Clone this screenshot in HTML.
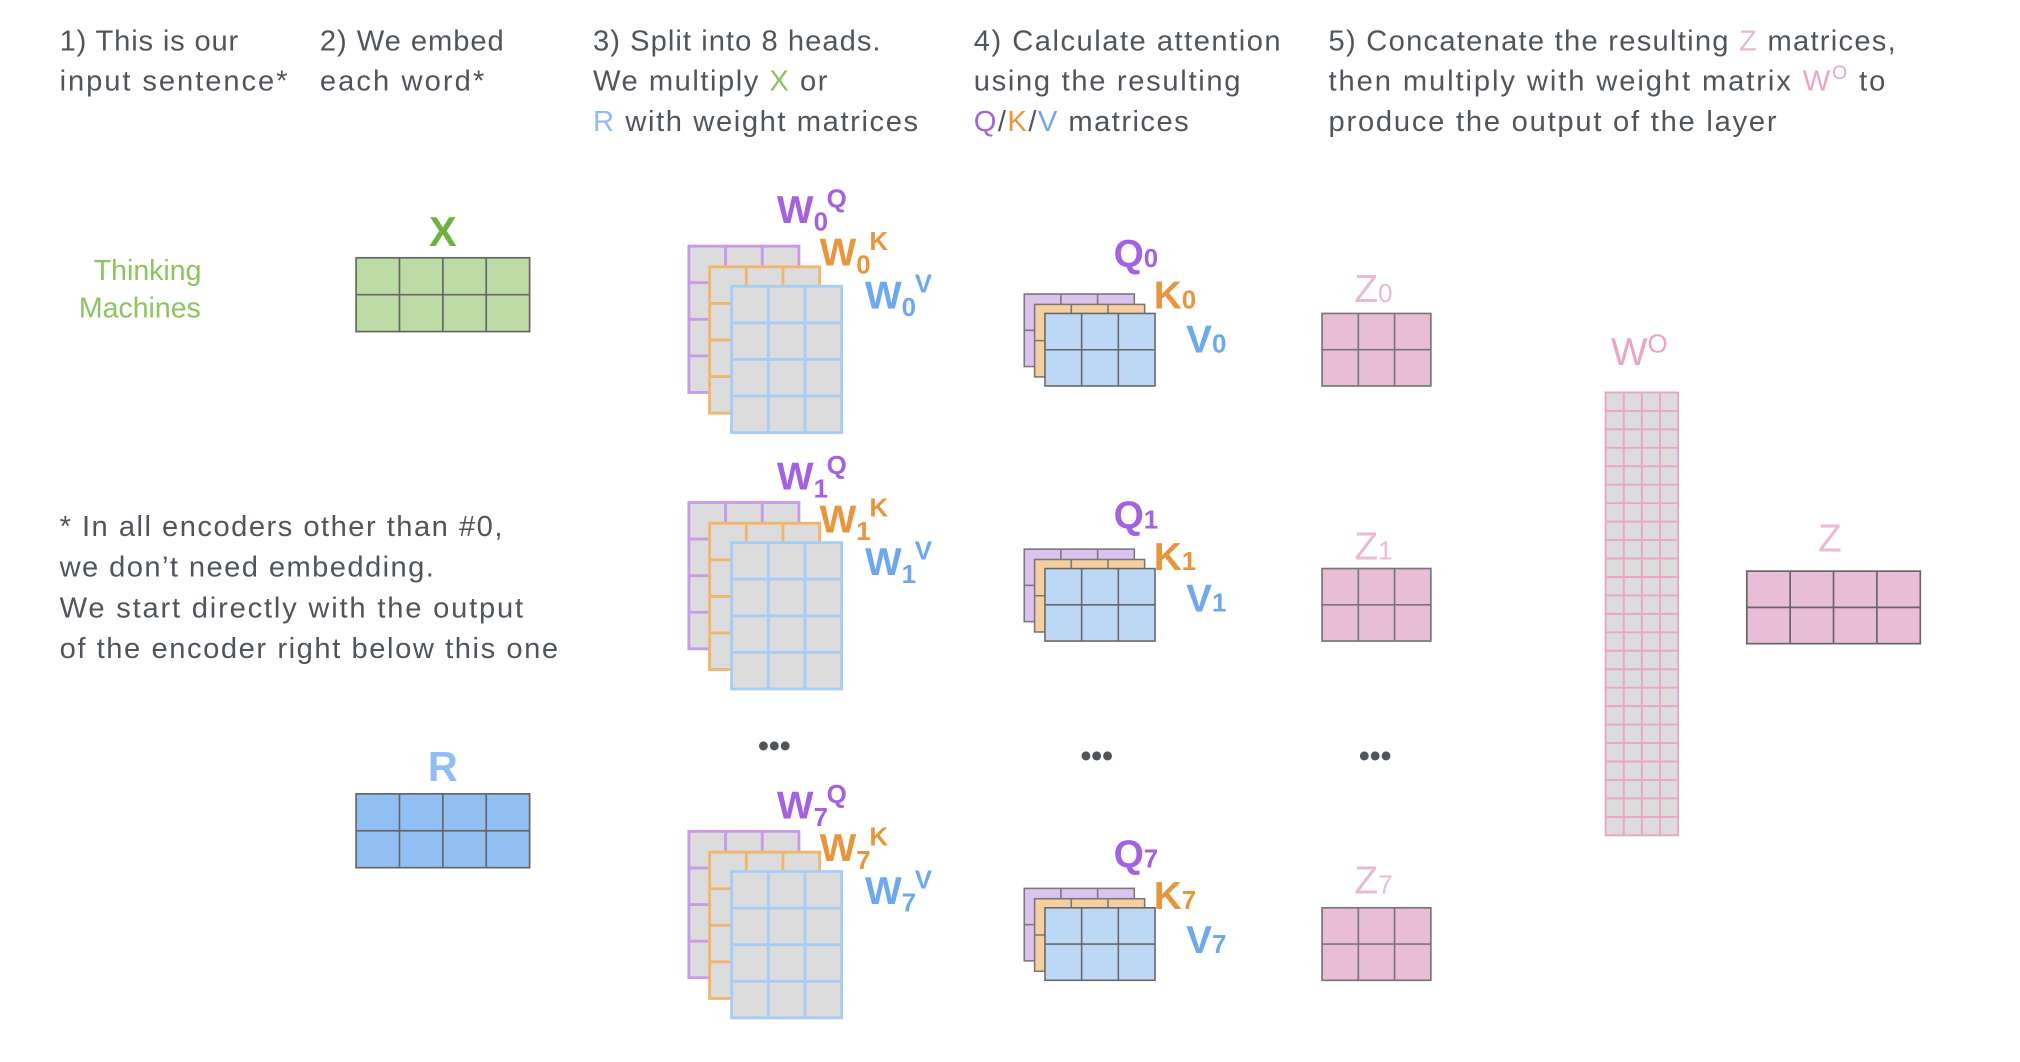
<!DOCTYPE html>
<html><head><meta charset="utf-8"><style>
html,body{margin:0;padding:0;background:#fff;}
svg{display:block;}
.h{font-family:"Liberation Sans",sans-serif;font-size:22.5px;fill:#50555c;}
.b{font-family:"Liberation Sans",sans-serif;font-weight:bold;}
</style></head><body>
<svg id="s" width="2020" height="1062" viewBox="0 0 1560 820" xmlns="http://www.w3.org/2000/svg">
<rect width="1560" height="820" fill="#fff"/>
<g class="h">
<text x="46" y="39" textLength="138" lengthAdjust="spacing">1) This is our</text>
<text x="46" y="70" textLength="176" lengthAdjust="spacing">input sentence*</text>
<text x="247" y="39" textLength="142" lengthAdjust="spacing">2) We embed</text>
<text x="247" y="70" textLength="127" lengthAdjust="spacing">each word*</text>
<text x="458" y="39" textLength="222" lengthAdjust="spacing">3) Split into 8 heads.</text>
<text x="458" y="70" textLength="181" lengthAdjust="spacing">We multiply <tspan fill="#8cc460">X</tspan> or</text>
<text x="458" y="101" textLength="251" lengthAdjust="spacing"><tspan fill="#8fbef5">R</tspan> with weight matrices</text>
<text x="752" y="39" textLength="237" lengthAdjust="spacing">4) Calculate attention</text>
<text x="752" y="70" textLength="206" lengthAdjust="spacing">using the resulting</text>
<text x="752" y="101" textLength="166" lengthAdjust="spacing"><tspan fill="#a461e0">Q</tspan>/<tspan fill="#e8963e">K</tspan>/<tspan fill="#6ea9f0">V</tspan> matrices</text>
<text x="1026" y="39" textLength="438" lengthAdjust="spacing">5) Concatenate the resulting <tspan fill="#eab9d4">Z</tspan> matrices,</text>
<text x="1026" y="70" textLength="430" lengthAdjust="spacing">then multiply with weight matrix <tspan fill="#e9a5c9">W<tspan dy="-9" font-size="15">O</tspan></tspan><tspan dy="9"> to</tspan></text>
<text x="1026" y="101" textLength="346" lengthAdjust="spacing">produce the output of the layer</text>
<text x="46" y="414" textLength="342" lengthAdjust="spacing">* In all encoders other than #0,</text>
<text x="46" y="445" textLength="289" lengthAdjust="spacing">we don’t need embedding.</text>
<text x="46" y="477" textLength="358" lengthAdjust="spacing">We start directly with the output</text>
<text x="46" y="508" textLength="385" lengthAdjust="spacing">of the encoder right below this one</text>
</g>
<g font-family="Liberation Sans,sans-serif" font-size="22" fill="#8cc460" text-anchor="middle">
<text x="114" y="216">Thinking</text>
<text x="108" y="245">Machines</text>
</g>
<text class="b" x="342" y="190" font-size="32" fill="#6db33f" text-anchor="middle">X</text>
<text class="b" x="342" y="603" font-size="32" fill="#8fbef5" text-anchor="middle">R</text>
<g id="grids"></g>
<g class="b" font-size="30">
<text x="600" y="172" fill="#a461e0">W<tspan font-size="20" dy="6">0</tspan><tspan font-size="20" dy="-18" dx="-1">Q</tspan></text>
<text x="633" y="205" fill="#e8963e">W<tspan font-size="20" dy="6">0</tspan><tspan font-size="20" dy="-18" dx="-1">K</tspan></text>
<text x="668" y="238" fill="#6ea9f0">W<tspan font-size="20" dy="6">0</tspan><tspan font-size="20" dy="-18" dx="-1">V</tspan></text>
<text x="600" y="378" fill="#a461e0">W<tspan font-size="20" dy="6">1</tspan><tspan font-size="20" dy="-18" dx="-1">Q</tspan></text>
<text x="633" y="411" fill="#e8963e">W<tspan font-size="20" dy="6">1</tspan><tspan font-size="20" dy="-18" dx="-1">K</tspan></text>
<text x="668" y="444" fill="#6ea9f0">W<tspan font-size="20" dy="6">1</tspan><tspan font-size="20" dy="-18" dx="-1">V</tspan></text>
<text x="600" y="632" fill="#a461e0">W<tspan font-size="20" dy="6">7</tspan><tspan font-size="20" dy="-18" dx="-1">Q</tspan></text>
<text x="633" y="665" fill="#e8963e">W<tspan font-size="20" dy="6">7</tspan><tspan font-size="20" dy="-18" dx="-1">K</tspan></text>
<text x="668" y="698" fill="#6ea9f0">W<tspan font-size="20" dy="6">7</tspan><tspan font-size="20" dy="-18" dx="-1">V</tspan></text>
</g>
<g class="b" font-size="30">
<text x="860" y="206" fill="#a461e0">Q<tspan font-size="20">0</tspan></text>
<text x="891" y="238" fill="#e8963e">K<tspan font-size="20">0</tspan></text>
<text x="916" y="272" fill="#6ea9f0">V<tspan font-size="20">0</tspan></text>
<text x="860" y="408" fill="#a461e0">Q<tspan font-size="20">1</tspan></text>
<text x="891" y="440" fill="#e8963e">K<tspan font-size="20">1</tspan></text>
<text x="916" y="472" fill="#6ea9f0">V<tspan font-size="20">1</tspan></text>
<text x="860" y="670" fill="#a461e0">Q<tspan font-size="20">7</tspan></text>
<text x="891" y="702" fill="#e8963e">K<tspan font-size="20">7</tspan></text>
<text x="916" y="736" fill="#6ea9f0">V<tspan font-size="20">7</tspan></text>
</g>
<g font-family="Liberation Sans,sans-serif" font-size="30" fill="#eab9d4">
<text x="1046" y="233">Z<tspan font-size="20">0</tspan></text>
<text x="1046" y="432">Z<tspan font-size="20">1</tspan></text>
<text x="1046" y="690">Z<tspan font-size="20">7</tspan></text>
<text x="1244" y="282" fill="#e9a5c9">W<tspan font-size="20" dy="-10">O</tspan></text>
<text x="1404" y="426">Z</text>
</g>
<g font-family="Liberation Sans,sans-serif" font-weight="bold" font-size="24" fill="#50555c" text-anchor="middle">
<text x="598" y="584">•••</text>
<text x="847" y="592">•••</text>
<text x="1062" y="592">•••</text>
</g>
</svg>
<script>
var g=document.getElementById('grids');
function grid(x,y,w,h,c,r,fill,stroke,sw){
  var s='<rect x="'+x+'" y="'+y+'" width="'+w+'" height="'+h+'" fill="'+fill+'" stroke="'+stroke+'" stroke-width="'+sw+'"/>';
  for(var i=1;i<c;i++){var xx=x+w*i/c;s+='<line x1="'+xx+'" y1="'+y+'" x2="'+xx+'" y2="'+(y+h)+'" stroke="'+stroke+'" stroke-width="'+sw+'"/>';}
  for(var j=1;j<r;j++){var yy=y+h*j/r;s+='<line x1="'+x+'" y1="'+yy+'" x2="'+(x+w)+'" y2="'+yy+'" stroke="'+stroke+'" stroke-width="'+sw+'"/>';}
  g.insertAdjacentHTML('beforeend',s);
}
grid(275,199,134,57,4,2,'#bddba5','#666',1.3);
grid(275,613,134,57,4,2,'#92bff3','#666',1.3);
[0,198,452].forEach(function(o){
  grid(532,190+o,85,113,3,4,'#dcdcdc','#c89ae8',2.2);
  grid(548,206+o,85,113,3,4,'#dcdcdc','#f0b66e',2.2);
  grid(565,221+o,85,113,3,4,'#dcdcdc','#a8cdf5',2.2);
});
[0,197,459].forEach(function(o){
  grid(791,227+o,85,56,3,2,'#dcc3ef','#777',1.2);
  grid(799,235+o,85,56,3,2,'#f5cf9f','#777',1.2);
  grid(807,242+o,85,56,3,2,'#bcd8f5','#666',1.2);
});
grid(1021,242,84,56,3,2,'#e9bdd7','#777',1.3);
grid(1021,439,84,56,3,2,'#e9bdd7','#777',1.3);
grid(1021,701,84,56,3,2,'#e9bdd7','#777',1.3);
grid(1349,441,134,56,4,2,'#e9bdd7','#666',1.3);
grid(1240,303,56,342,4,24,'#dcdcdc','#eaa6c8',1.5);
</script>
</body></html>
